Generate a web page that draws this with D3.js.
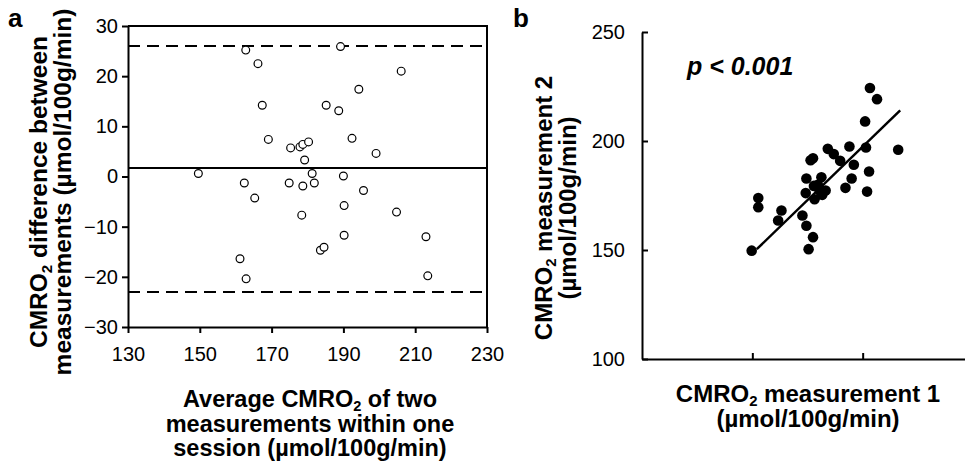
<!DOCTYPE html>
<html>
<head>
<meta charset="utf-8">
<script src="https://cdn.jsdelivr.net/npm/d3@7.9.0/dist/d3.min.js"></script>
<style>
  body { margin: 0; background: #fff; }
  svg { display: block; font-family: "Liberation Sans", Arial, sans-serif; }
  .tick text { font-size: 20px; fill: #000; }
  .domain, .tick line { stroke: #000; stroke-width: 2; }
</style>
</head>
<body>
<div id="vis"></div>
<script>
// Panel a: Bland-Altman (average vs difference)
const baAvg = [149.6, 161.2, 162.4, 162.8, 162.9, 165.3, 166.2, 167.4, 169.1, 174.9,
  175.3, 177.9, 178.4, 178.7, 178.7, 179.2, 180.3, 181.3, 181.9, 183.6,
  184.6, 185.2, 188.7, 189.2, 190.0, 190.2, 190.2, 192.4, 194.3, 195.6,
  199.1, 204.8, 206.1, 213.0, 213.5];
const baDiff = [0.6, -16.4, -1.3, 25.2, -20.4, -4.3, 22.5, 14.2, 7.4, -1.3,
  5.7, 5.9, -7.7, 6.4, -1.9, 3.3, 6.9, 0.6, -1.3, -14.7,
  -14.1, 14.2, 13.1, 25.9, 0.1, -5.8, -11.7, 7.6, 17.4, -2.8,
  4.6, -7.1, 21.0, -12.0, -19.8];
const meanDiff = 1.7;
const limitsOfAgreement = [26.0, -23.0];
const aXTicks = [130, 150, 170, 190, 210, 230];
const aYTicks = [-30, -20, -10, 0, 10, 20, 30];

// Panel b: measurement 1 vs measurement 2
const m1 = [149.7, 152.7, 152.7, 161.7, 163.2, 172.7, 174.5, 177.5, 175.5, 174.2,
  174.5, 176.4, 177.5, 178.2, 177.9, 179.7, 181.3, 180.5, 183.2, 181.7,
  184.2, 186.9, 189.8, 194.0, 196.0, 195.0, 192.2, 201.1, 201.5, 202.9,
  202.0, 216.1, 203.3, 206.5];
const m2 = [149.7, 173.8, 169.6, 163.5, 168.1, 165.8, 161.1, 155.9, 150.4, 176.1,
  182.8, 191.2, 192.1, 173.3, 179.4, 179.9, 183.4, 177.3, 177.3, 175.3,
  196.4, 194.0, 190.9, 197.5, 189.1, 182.8, 178.5, 209.0, 197.0, 186.0,
  176.8, 196.0, 224.3, 219.2];
const fitSlope = 0.98;
const fitIntercept = 1.4;
const fitRange = [152, 217];
const bYTicks = [100, 150, 200, 250];
const bXTicks = [150, 200];

const width = 965;
const height = 461;

const svg = d3.select("#vis").append("svg")
  .attr("width", width)
  .attr("height", height);

// writes "before" + subscript 2 + "after" into a tspan
function withSub(sel, before, after) {
  sel.append("tspan").text(before);
  sel.append("tspan").attr("font-size", "0.62em").attr("dy", "0.3em").text("2");
  sel.append("tspan").attr("dy", "-0.19em").text(after);
}

// ---------- panel a ----------
const xA = d3.scaleLinear().domain([130, 230]).range([128, 487]);
const yA = d3.scaleLinear().domain([-30, 30]).range([327, 26]);

const gA = svg.append("g");

// frame top + right
gA.append("path")
  .attr("d", `M${xA(130)},${yA(30)}H${xA(230)}V${yA(-30)}`)
  .attr("fill", "none").attr("stroke", "#000").attr("stroke-width", 2);

gA.append("g")
  .attr("transform", `translate(0,${yA(-30)})`)
  .call(d3.axisBottom(xA).tickValues(aXTicks).tickSize(6).tickSizeOuter(0).tickPadding(14));

gA.append("g")
  .attr("transform", `translate(${xA(130)},0)`)
  .call(d3.axisLeft(yA).tickValues(aYTicks).tickSize(6).tickSizeOuter(0).tickPadding(4));

// mean and limits of agreement
gA.append("line")
  .attr("x1", xA(130)).attr("x2", xA(230))
  .attr("y1", yA(meanDiff)).attr("y2", yA(meanDiff))
  .attr("stroke", "#000").attr("stroke-width", 2);

gA.selectAll("line.loa")
  .data(limitsOfAgreement)
  .join("line")
  .attr("class", "loa")
  .attr("x1", xA(130)).attr("x2", xA(230))
  .attr("y1", d => yA(d)).attr("y2", d => yA(d))
  .attr("stroke", "#000").attr("stroke-width", 2)
  .attr("stroke-dasharray", "12,7");

gA.selectAll("circle")
  .data(baAvg)
  .join("circle")
  .attr("cx", d => xA(d))
  .attr("cy", (d, i) => yA(baDiff[i]))
  .attr("r", 3.9)
  .attr("fill", "#fff")
  .attr("stroke", "#000")
  .attr("stroke-width", 1.2);

// titles
const titleA = gA.append("text")
  .attr("text-anchor", "middle")
  .attr("font-size", 23.5).attr("font-weight", "bold");
withSub(titleA.append("tspan").attr("x", 310).attr("y", 407), "Average CMRO", " of two");
titleA.append("tspan").attr("x", 310).attr("y", 432).text("measurements within one");
titleA.append("tspan").attr("x", 310).attr("y", 456).text("session (µmol/100g/min)");

const yTitleA = gA.append("text")
  .attr("transform", "rotate(-90)")
  .attr("text-anchor", "middle")
  .attr("font-size", 24.5).attr("font-weight", "bold");
withSub(yTitleA.append("tspan").attr("x", -192).attr("y", 47), "CMRO", " difference between");
yTitleA.append("tspan").attr("x", -192).attr("y", 71).text("measurements (µmol/100g/min)");

svg.append("text")
  .attr("x", 8).attr("y", 27)
  .attr("font-size", 26).attr("font-weight", "bold")
  .text("a");

// ---------- panel b ----------
const xB = d3.scaleLinear().domain([100, 250]).range([642, 973]);
const yB = d3.scaleLinear().domain([100, 250]).range([359, 32]);

const gB = svg.append("g");

gB.append("g")
  .attr("transform", `translate(0,${yB(100)})`)
  .call(d3.axisBottom(xB).tickValues(bXTicks).tickFormat("").tickSizeInner(-6).tickSizeOuter(0));

gB.append("g")
  .attr("transform", `translate(${xB(100)},0)`)
  .call(d3.axisLeft(yB).tickValues(bYTicks).tickSizeInner(-6).tickSizeOuter(0).tickPadding(17));

gB.append("line")
  .attr("x1", xB(fitRange[0])).attr("y1", yB(fitSlope * fitRange[0] + fitIntercept))
  .attr("x2", xB(fitRange[1])).attr("y2", yB(fitSlope * fitRange[1] + fitIntercept))
  .attr("stroke", "#000").attr("stroke-width", 2.5);

gB.selectAll("circle")
  .data(m1)
  .join("circle")
  .attr("cx", d => xB(d))
  .attr("cy", (d, i) => yB(m2[i]))
  .attr("r", 5.3)
  .attr("fill", "#000");

gB.append("text")
  .attr("x", 687).attr("y", 75)
  .attr("font-size", 25).attr("font-weight", "bold").attr("font-style", "italic")
  .text("p < 0.001");

const titleB = gB.append("text")
  .attr("text-anchor", "middle")
  .attr("font-size", 24).attr("font-weight", "bold");
withSub(titleB.append("tspan").attr("x", 808).attr("y", 402), "CMRO", " measurement 1");
titleB.append("tspan").attr("x", 808).attr("y", 427).text("(µmol/100g/min)");

const yTitleB = gB.append("text")
  .attr("transform", "rotate(-90)")
  .attr("text-anchor", "middle")
  .attr("font-size", 24).attr("font-weight", "bold");
withSub(yTitleB.append("tspan").attr("x", -208).attr("y", 552), "CMRO", " measurement 2");
yTitleB.append("tspan").attr("x", -208).attr("y", 576).text("(µmol/100g/min)");

svg.append("text")
  .attr("x", 513).attr("y", 27)
  .attr("font-size", 26).attr("font-weight", "bold")
  .text("b");
</script>
</body>
</html>
